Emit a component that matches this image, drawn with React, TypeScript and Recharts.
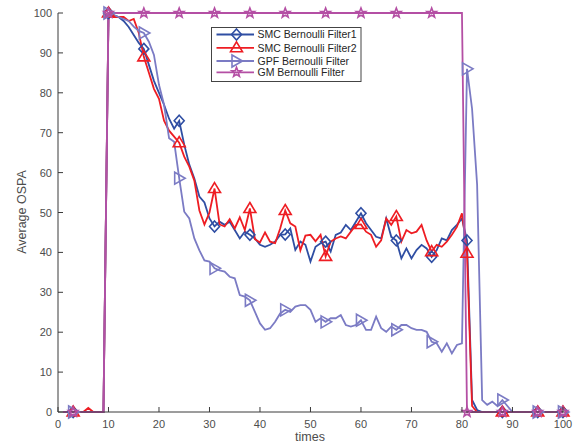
import React from "react";
import { LineChart, Line, XAxis, YAxis } from "recharts";

// time index 1..100
const times = Array.from({ length: 100 }, (_, i) => i + 1);

// where the markers sit (every ~7 samples)
const markerTimes = [3, 10, 17, 24, 31, 38, 45, 53, 60, 67, 74, 81, 88, 95, 100];

const xTicks = [0, 10, 20, 30, 40, 50, 60, 70, 80, 90, 100];
const yTicks = [0, 10, 20, 30, 40, 50, 60, 70, 80, 90, 100];

const smc1 = [
  0, 0, 0, 0, 0, 0, 0, 0, 0, 100,
  99.5, 99, 98, 96.5, 94.5, 92.5, 91, 87, 83, 80,
  77, 73.5, 71, 73, 67, 62, 58.5, 54, 52.5, 48.5,
  46.5, 47.7, 46.9, 47.7, 45.6, 43.5, 45.2, 44.4, 43.5, 41.9,
  41.4, 41.9, 42.7, 44.4, 44.5, 46, 40.6, 42.7, 41.9, 37.7,
  41.4, 42.3, 42.7, 40.2, 44.4, 45, 46.9, 45.6, 47.7, 49.8,
  47.3, 45.6, 43.9, 43.5, 48.5, 43.9, 43, 38.5, 41, 38.5,
  40.6, 41.9, 41, 38.9, 40.6, 43.5, 43, 45.6, 46.9, 48.5,
  43, 3, 0.5, 0, 0, 0, 0, 0, 0, 0,
  0, 0, 0, 0, 0, 0, 0, 0, 0, 0,
];

const smc2 = [
  0, 0, 0, 0, 0, 1, 0, 0, 0, 100,
  99, 99, 99, 98, 98.5, 95, 89, 85, 81, 78.5,
  73, 70.5, 69, 67.5, 64, 61.5, 58, 50.5, 47, 50,
  56, 47, 46.5, 48.3, 46, 48.8, 45.6, 51, 43.3, 42.5,
  45, 42.7, 42.3, 46, 50.5, 47.3, 46.5, 40.5, 44.2, 44.4,
  42.8, 44.4, 39, 42.7, 43.5, 44, 43.5, 45.2, 46.9, 47,
  45.2, 44.4, 41.4, 43, 48.5, 46.9, 49, 42.7, 45.6, 44.8,
  45.2, 46.9, 43, 40.2, 41.9, 41.4, 42.7, 44.4, 46.4, 49.8,
  39.8, 1.5, 0, 0, 0, 0, 0, 0, 0, 0,
  0, 0, 0, 0, 0, 0, 0, 0, 0, 0,
];

const gpf = [
  0, 0, 0, 0, 0, 0, 0, 0, 0, 100,
  99.5, 99, 98.5, 98, 96.6, 95.5, 95, 92.8, 89.5, 82,
  77, 68.6, 67.7, 58.6, 50.2, 48.5, 43.5, 40.5, 38, 37.7,
  36, 35.5, 35.2, 33.9, 33.5, 29.3, 28.9, 28, 25.1, 22.2,
  20.6, 21, 22.6, 24.7, 25.6, 25.1, 26.4, 26.8, 26.8, 25.6,
  22.6, 23.5, 22.6, 23.5, 23.5, 24.3, 21.8, 21.4, 21.8, 23,
  20.6, 20.6, 23.9, 21, 20.1, 21.4, 20.6, 21.8, 21.8, 21,
  20.6, 20.6, 20.1, 17.6, 17.2, 15.1, 17.2, 14.7, 16.8, 17.2,
  86, 76, 57, 3, 1.8, 2.6, 1.5, 3, 1.5, 0,
  0, 0, 0, 0, 0, 0, 0, 0, 0, 0,
];

const gm = [
  0, 0, 0, 0, 0, 0, 0, 0, 0, 100,
  100, 100, 100, 100, 100, 100, 100, 100, 100, 100,
  100, 100, 100, 100, 100, 100, 100, 100, 100, 100,
  100, 100, 100, 100, 100, 100, 100, 100, 100, 100,
  100, 100, 100, 100, 100, 100, 100, 100, 100, 100,
  100, 100, 100, 100, 100, 100, 100, 100, 100, 100,
  100, 100, 100, 100, 100, 100, 100, 100, 100, 100,
  100, 100, 100, 100, 100, 100, 100, 100, 100, 100,
  0, 0, 0, 0, 0, 0, 0, 0, 0, 0,
  0, 0, 0, 0, 0, 0, 0, 0, 0, 0,
];

const seriesNames = [
  "SMC Bernoulli Filter1",
  "SMC Bernoulli Filter2",
  "GPF Bernoulli Filter",
  "GM Bernoulli Filter",
];

const rows = times.map((t, i) => ({ t, smc1: smc1[i], smc2: smc2[i], gpf: gpf[i], gm: gm[i] }));

const COLORS = {
  smc1: "#2F4EA3",
  smc2: "#EE1D23",
  gpf: "#7B7BC4",
  gm: "#B44FA4",
};

const FONT = "'Liberation Sans', Arial, Helvetica, sans-serif";
const AXIS = "#3a3a3a";
const TEXT = "#4d4d4d";

type Shape = "diamond" | "triUp" | "triRight" | "star";

function Marker({ shape, cx, cy, color }: { shape: Shape; cx: number; cy: number; color: string }) {
  let pts = "";
  if (shape === "diamond") {
    pts = `${cx},${cy - 5.5} ${cx + 5},${cy} ${cx},${cy + 5.5} ${cx - 5},${cy}`;
  } else if (shape === "triUp") {
    pts = `${cx},${cy - 6} ${cx + 6},${cy + 4} ${cx - 6},${cy + 4}`;
  } else if (shape === "triRight") {
    pts = `${cx - 4.5},${cy - 6} ${cx + 6},${cy} ${cx - 4.5},${cy + 6}`;
  } else {
    const p: string[] = [];
    for (let k = 0; k < 10; k++) {
      const r = k % 2 === 0 ? 5 : 2.1;
      const a = -Math.PI / 2 + (k * Math.PI) / 5;
      p.push(`${cx + r * Math.cos(a)},${cy + r * Math.sin(a)}`);
    }
    pts = p.join(" ");
  }
  return <polygon points={pts} fill="none" stroke={color} strokeWidth={1.6} strokeLinejoin="miter" />;
}

const makeDot = (shape: Shape, color: string) => (props: any) => {
  const { cx, cy, payload, index } = props;
  if (cx == null || cy == null || !markerTimes.includes(payload.t)) return <g key={`d-${index}`} />;
  return (
    <g key={`d-${index}`}>
      <Marker shape={shape} cx={cx} cy={cy} color={color} />
    </g>
  );
};

const XTick = (props: any) => {
  const { x, y, payload } = props;
  return (
    <g>
      <line x1={x} y1={y} x2={x} y2={y - 5} stroke={AXIS} strokeWidth={1} />
      <text x={x} y={y + 16} textAnchor="middle" fontSize={11} fill={TEXT} fontFamily={FONT}>
        {payload.value}
      </text>
    </g>
  );
};

const YTick = (props: any) => {
  const { x, y, payload } = props;
  return (
    <g>
      <line x1={x} y1={y} x2={x + 5} y2={y} stroke={AXIS} strokeWidth={1} />
      <text x={x - 6} y={y + 4} textAnchor="end" fontSize={11} fill={TEXT} fontFamily={FONT}>
        {payload.value}
      </text>
    </g>
  );
};

const legendRows: { key: keyof typeof COLORS; shape: Shape; y: number }[] = [
  { key: "smc1", shape: "diamond", y: 34.5 },
  { key: "smc2", shape: "triUp", y: 47.8 },
  { key: "gpf", shape: "triRight", y: 61 },
  { key: "gm", shape: "star", y: 72.3 },
];

export default function App() {
  return (
    <div style={{ position: "absolute", left: 0, top: 0, width: 576, height: 443, background: "#fff" }}>
      <LineChart width={576} height={443} data={rows} margin={{ top: 13, right: 8, bottom: 0, left: 0 }}>
        <XAxis
          dataKey="t"
          type="number"
          domain={[0, 101]}
          ticks={xTicks}
          interval={0}
          height={31}
          tickSize={0}
          tickMargin={0}
          tick={XTick}
          tickLine={false}
          axisLine={{ stroke: AXIS, strokeWidth: 1 }}
        />
        <YAxis
          type="number"
          domain={[0, 100]}
          ticks={yTicks}
          interval={0}
          width={58}
          tickSize={0}
          tickMargin={0}
          tick={YTick}
          tickLine={false}
          axisLine={{ stroke: AXIS, strokeWidth: 1 }}
        />
        <Line dataKey="smc1" stroke={COLORS.smc1} strokeWidth={1.8} dot={makeDot("diamond", COLORS.smc1)} activeDot={false} isAnimationActive={false} />
        <Line dataKey="smc2" stroke={COLORS.smc2} strokeWidth={1.8} dot={makeDot("triUp", COLORS.smc2)} activeDot={false} isAnimationActive={false} />
        <Line dataKey="gpf" stroke={COLORS.gpf} strokeWidth={1.8} dot={makeDot("triRight", COLORS.gpf)} activeDot={false} isAnimationActive={false} />
        <Line dataKey="gm" stroke={COLORS.gm} strokeWidth={1.8} dot={makeDot("star", COLORS.gm)} activeDot={false} isAnimationActive={false} />
      </LineChart>
      <svg width={576} height={443} style={{ position: "absolute", left: 0, top: 0, pointerEvents: "none" }}>
        <text x={310} y={441} textAnchor="middle" fontSize={12.5} fill={TEXT} fontFamily={FONT}>
          times
        </text>
        <text
          x={26}
          y={212}
          textAnchor="middle"
          fontSize={12.5}
          fill={TEXT}
          fontFamily={FONT}
          transform="rotate(-90 26 212)"
        >
          Average OSPA
        </text>
        <rect x={211.5} y={27.5} width={149.5} height={54} fill="#fff" stroke="#444" strokeWidth={1} />
        {legendRows.map((r, i) => (
          <g key={r.key}>
            <line x1={216.5} y1={r.y} x2={254} y2={r.y} stroke={COLORS[r.key]} strokeWidth={1.8} />
            <Marker shape={r.shape} cx={236.5} cy={r.y} color={COLORS[r.key]} />
            <text x={257.5} y={r.y + 3.8} fontSize={10.5} fill="#262626" fontFamily={FONT}>
              {seriesNames[i]}
            </text>
          </g>
        ))}
      </svg>
    </div>
  );
}
